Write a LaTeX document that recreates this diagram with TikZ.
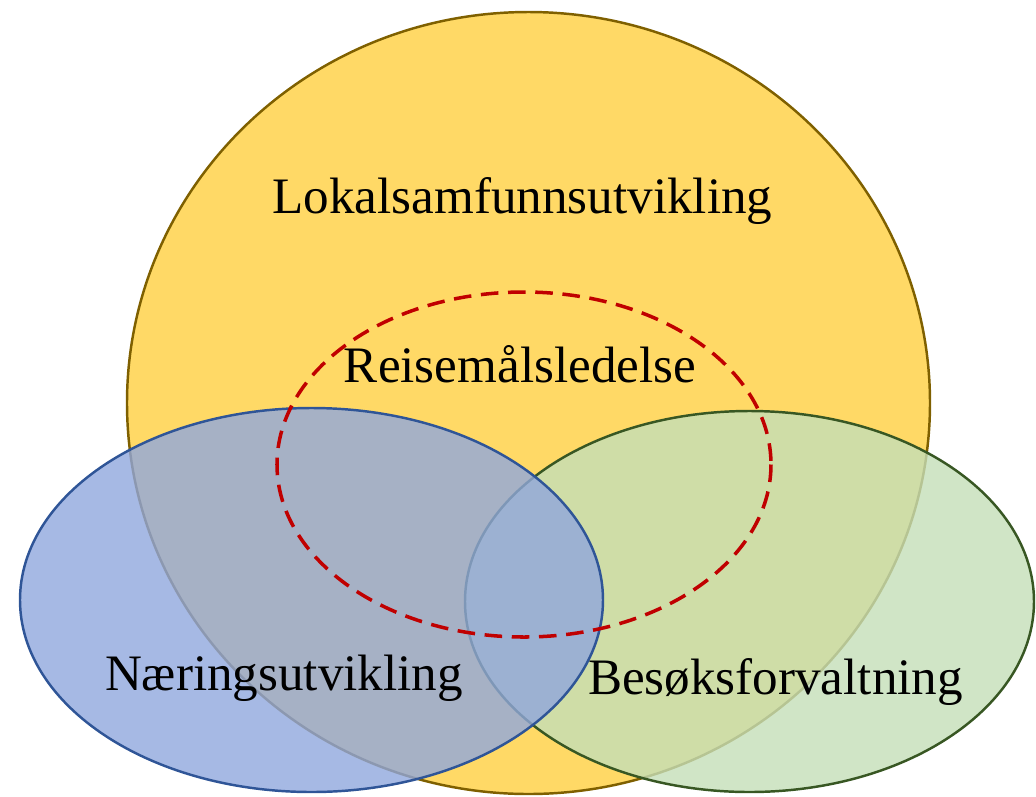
\documentclass[tikz,border=0pt]{standalone}
\usepackage{fontspec}
\setmainfont{Liberation Serif}
\definecolor{yfill}{HTML}{FFD966}
\definecolor{yline}{HTML}{7F6000}
\definecolor{bfill}{RGB}{144,167,221}
\definecolor{bline}{HTML}{2F5597}
\definecolor{gfill}{RGB}{196,222,184}
\definecolor{gline}{HTML}{385723}
\definecolor{rline}{HTML}{C00000}
\begin{document}
\begin{tikzpicture}[x=0.02cm,y=-0.02cm,
  lbl/.style={anchor=base,inner sep=0pt,font=\fontsize{29.1}{34}\selectfont},
  setline/.style={line width=1.4pt}]
\useasboundingbox (0,0) rectangle (1036,796);
\draw[setline,draw=yline,fill=yfill] (528.5,403) ellipse [x radius=401.5,y radius=391];
\draw[setline,draw=gline,fill=gfill,fill opacity=0.8] (749.5,601.5) ellipse [x radius=284.5,y radius=190.5];
\draw[setline,draw=bline,fill=bfill,fill opacity=0.8] (311.5,600) ellipse [x radius=291.5,y radius=192];
\draw[line width=2pt,draw=rline,dash pattern=on 10pt off 5.5pt] (524,464.5) ellipse [x radius=247,y radius=172.5];
\node[lbl] (lok) at (522.5,213) {Lokalsamfunnsutvikling};
\node[lbl] (rei) at (520,382) {Reisemålsledelse};
\node[lbl] (nae) at (284,690) {Næringsutvikling};
\node[lbl] (bes) at (775.5,694) {Besøksforvaltning};
\end{tikzpicture}
\end{document}
